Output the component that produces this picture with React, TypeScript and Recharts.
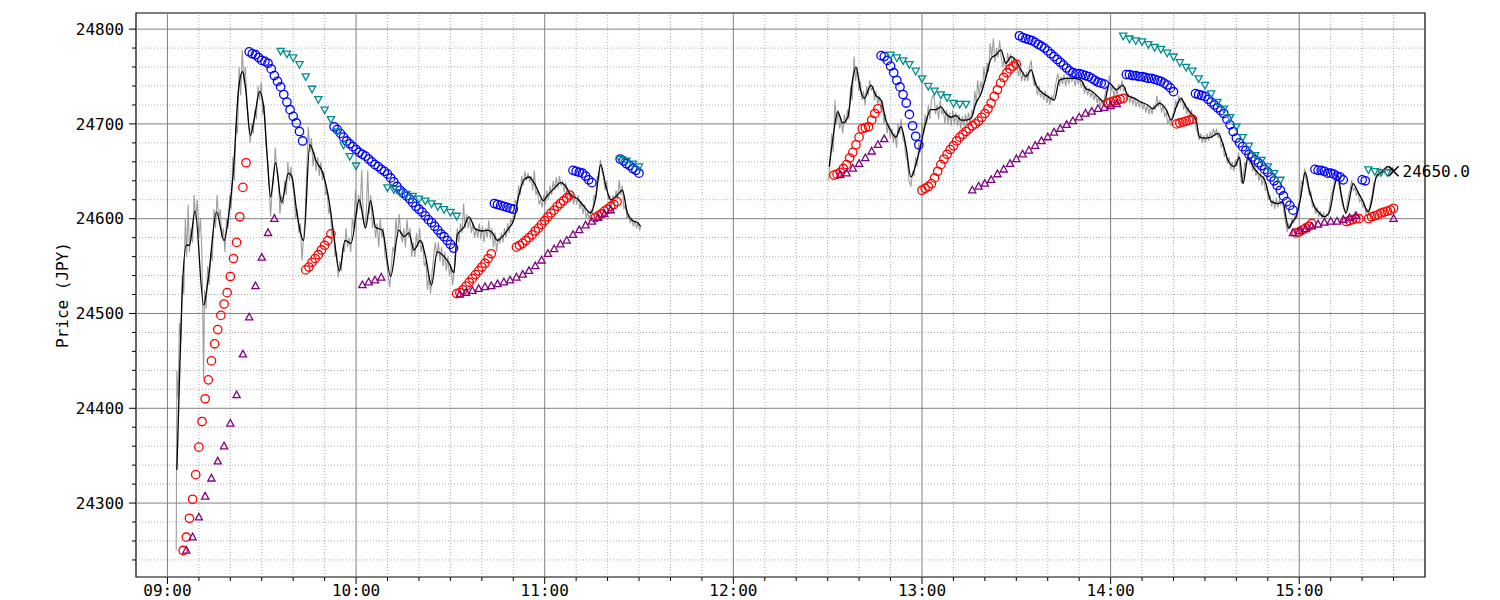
import React from "react";
import { ComposedChart, Line, Scatter, XAxis, YAxis, ReferenceLine, ReferenceArea, ReferenceDot } from "recharts";

const MONO = '"DejaVu Sans Mono", monospace';
const OPEN = 540; // 09:00 in minutes
const X_DOMAIN: [number, number] = [530, 940];
const Y_DOMAIN: [number, number] = [24222, 24817];
const PLOT_LEFT = 128;
const PLOT_BOTTOM = 569;

// raw price (grey), [minutes after 09:00, JPY]
const amRaw: [number, number][] = [
  [2.8,24250],[3,24440],[3.4,24410],[3.8,24490],[4.3,24470],[4.7,24540],[5.2,24520],[5.7,24600],[6.1,24560],[6.6,24615],
  [7,24565],[7.5,24590],[8,24575],[8.5,24625],[9,24600],[9.5,24620],[10,24580],[10.5,24600],[11,24560],[11.5,24432],
  [11.8,24525],[12.3,24505],[12.8,24550],[13.3,24530],[13.8,24565],[14.3,24555],[14.8,24610],[15.3,24590],[15.8,24625],[16.3,24600],
  [16.8,24610],[17.3,24580],[17.8,24590],[18.3,24565],[18.8,24600],[19.3,24590],[19.8,24625],[20.3,24610],[20.8,24665],[21.3,24640],
  [21.8,24700],[22.3,24690],[22.8,24760],[23.3,24730],[23.8,24778],[24.3,24745],[24.8,24760],[25.3,24720],[25.8,24700],[26.3,24680],
  [26.8,24700],[27.3,24690],[27.8,24715],[28.3,24705],[28.8,24740],[29.3,24725],[29.8,24744],[30.3,24710],[30.8,24720],[31.3,24680],
  [31.8,24665],[32.3,24640],[32.8,24602],[33.3,24630],[33.8,24645],[34.3,24675],[34.8,24650],[35.3,24640],[35.8,24605],[36.3,24625],
  [36.8,24615],[37.3,24640],[37.8,24625],[38.3,24660],[38.8,24640],[39.3,24655],[39.8,24635],[40.3,24625],[40.8,24600],[41.3,24610],
  [41.8,24585],[42.3,24595],[42.8,24556],[43.3,24580],[43.8,24600],[44.3,24650],[44.8,24697],[45.3,24670],[45.8,24685],[46.3,24655],
  [46.8,24670],[47.3,24650],[47.8,24665],[48.3,24645],[48.8,24660],[49.3,24640],[49.8,24650],[50.3,24625],[50.8,24630],[51.3,24605],
  [51.8,24612],[52.3,24580],[52.8,24590],[53.3,24560],[53.8,24565],[54.3,24538],[54.8,24555],[55.3,24545],[55.8,24570],[56.3,24565],
  [56.8,24590],[57.3,24570],[57.8,24580],[58.3,24565],[58.8,24600],[59.3,24590],[59.8,24630],[60.3,24605],[60.8,24625],[61.3,24610],
  [61.8,24651],[62.3,24600],[62.8,24590],[63.3,24610],[63.7,24651],[64.2,24605],[64.7,24625],[65.2,24590],[65.7,24600],[66.2,24580],
  [66.7,24595],[67.2,24570],[67.7,24600],[68.2,24580],[68.7,24590],[69.2,24560],[69.7,24555],[70.2,24540],[70.7,24528],[71.2,24550],
  [71.7,24570],[72.2,24565],[72.7,24600],[73.2,24580],[73.7,24605],[74.2,24585],[74.7,24575],[75.2,24590],[75.7,24570],[76.2,24599],
  [76.7,24580],[77.2,24590],[77.7,24560],[78.2,24575],[78.7,24560],[79.2,24585],[79.7,24570],[80.2,24590],[80.7,24565],[81.2,24575],
  [81.7,24550],[82.2,24555],[82.7,24525],[83.2,24540],[83.7,24521],[84.2,24545],[84.7,24560],[85.2,24575],[85.7,24560],[86.2,24575],
  [86.7,24555],[87.2,24570],[87.7,24550],[88.2,24565],[88.7,24545],[89.2,24560],[89.7,24540],[90.2,24550],[90.7,24530],[91.2,24545],
  [91.7,24570],[92.2,24590],[92.7,24575],[93.2,24595],[93.7,24585],[94.2,24616],[94.7,24590],[95.2,24605],[95.7,24590],[96.2,24600],
  [96.7,24585],[97.2,24595],[97.7,24580],[98.2,24590],[98.7,24580],[99.2,24595],[99.7,24578],[100.2,24592],[100.7,24575],[101.2,24590],
  [101.7,24580],[102.2,24598],[102.7,24578],[103.2,24590],[103.7,24570],[104.2,24585],[104.7,24565],[105.2,24580],[105.7,24574],[106.2,24585],
  [106.7,24575],[107.2,24590],[107.7,24580],[108.2,24595],[108.7,24585],[109.2,24600],[109.7,24595],[110.2,24610],[110.7,24620],[111.2,24615],
  [111.7,24635],[112.2,24625],[112.7,24645],[113.2,24635],[113.7,24650],[114.2,24640],[114.7,24648],[115.2,24638],[115.7,24645],[116.2,24630],
  [116.7,24651],[117.2,24625],[117.7,24630],[118.2,24615],[118.7,24620],[119.2,24612],[119.7,24625],[120.2,24615],[120.7,24630],[121.2,24620],
  [121.7,24635],[122.2,24625],[122.7,24640],[123.2,24630],[123.7,24644],[124.2,24632],[124.7,24645],[125.2,24635],[125.7,24640],[126.2,24628],
  [126.7,24638],[127.2,24622],[127.7,24630],[128.2,24618],[128.7,24628],[129.2,24615],[129.7,24625],[130.2,24615],[130.7,24625],[131.2,24610],
  [131.7,24618],[132.2,24605],[132.7,24615],[133.2,24600],[133.7,24608],[134.2,24598],[134.7,24610],[135.2,24605],[135.7,24625],[136.2,24620],
  [136.7,24645],[137.2,24640],[137.7,24662],[138.2,24650],[138.7,24645],[139.2,24630],[139.7,24640],[140.2,24620],[140.7,24625],[141.2,24612],
  [141.7,24625],[142.2,24615],[142.7,24630],[143.2,24620],[143.7,24641],[144.2,24625],[144.7,24635],[145.2,24610],[145.7,24615],[146.2,24600],
  [146.7,24605],[147.2,24595],[147.7,24600],[148.2,24592],[148.7,24598],[149.2,24590],[149.7,24596],[150.2,24588],[150.5,24592],
];

const pmRaw: [number, number][] = [
  [210.3,24641],[210.8,24660],[211.3,24690],[211.8,24670],[212.3,24725],[212.8,24700],[213.3,24715],[213.8,24695],[214.3,24705],[214.8,24690],
  [215.3,24710],[215.8,24700],[216.3,24715],[216.8,24705],[217.3,24740],[217.8,24725],[218.4,24771],[218.9,24745],[219.4,24760],[219.9,24735],
  [220.4,24745],[220.9,24725],[221.4,24735],[221.9,24720],[222.4,24740],[222.9,24730],[223.4,24746],[223.9,24735],[224.4,24740],[224.9,24725],
  [225.4,24735],[225.9,24720],[226.4,24730],[226.9,24715],[227.4,24725],[227.9,24700],[228.4,24710],[228.9,24690],[229.4,24700],[229.9,24685],
  [230.4,24695],[230.9,24680],[231.4,24690],[231.9,24675],[232.4,24700],[232.9,24690],[233.4,24705],[233.9,24685],[234.4,24680],[234.9,24665],
  [235.4,24660],[235.9,24640],[236.5,24634],[237,24650],[237.5,24645],[238,24665],[238.5,24655],[239,24680],[239.5,24670],[240,24700],
  [240.5,24690],[241,24710],[241.5,24700],[242,24720],[242.5,24705],[243,24725],[243.8,24732],[244.3,24710],[244.8,24720],[245.3,24705],
  [245.8,24725],[246.3,24710],[246.8,24715],[247.3,24700],[247.8,24715],[248.3,24700],[248.8,24712],[249.3,24698],[249.8,24715],[250.3,24700],
  [250.8,24712],[251.3,24698],[251.8,24710],[252.3,24695],[252.8,24708],[253.3,24698],[253.8,24710],[254.3,24700],[254.8,24712],[255.3,24700],
  [255.8,24715],[256.3,24710],[256.8,24735],[257.3,24720],[257.7,24746],[258.2,24730],[258.7,24745],[259.2,24735],[259.7,24760],[260.2,24745],
  [260.7,24765],[261.2,24755],[261.7,24785],[262.2,24770],[262.7,24790],[263.2,24765],[263.7,24780],[264.2,24770],[264.7,24788],[265.2,24770],
  [265.7,24760],[266.2,24770],[266.7,24755],[267.2,24775],[267.7,24765],[268.2,24774],[268.7,24760],[269.2,24770],[269.7,24758],[270.2,24765],
  [270.7,24750],[271.2,24760],[271.7,24745],[272.2,24755],[272.7,24745],[273.2,24755],[273.7,24745],[274.2,24760],[274.7,24767],[275.2,24750],
  [275.7,24740],[276.2,24745],[276.7,24730],[277.2,24740],[277.7,24728],[278.2,24735],[278.7,24725],[279.2,24735],[279.7,24722],[280.2,24730],
  [280.7,24720],[281.2,24730],[281.7,24725],[282.2,24735],[282.7,24745],[283.2,24753],[283.7,24740],[284.2,24750],[284.7,24742],[285.2,24752],
  [285.7,24740],[286.2,24750],[286.7,24742],[287.2,24752],[287.7,24745],[288.2,24750],[288.7,24740],[289.2,24750],[289.7,24742],[290.2,24748],
  [290.7,24738],[291.2,24745],[291.7,24732],[292.2,24740],[292.7,24730],[293.2,24738],[293.7,24728],[294.2,24735],[294.7,24725],[295.2,24732],
  [295.7,24722],[296.2,24728],[296.7,24718],[297.2,24725],[297.7,24720],[298.2,24730],[298.7,24740],[299.2,24735],[299.6,24751],[300.1,24735],
  [300.6,24740],[301.1,24728],[301.6,24738],[302.1,24730],[302.6,24742],[303.1,24735],[303.6,24746],[304.1,24735],[304.6,24738],[305.1,24725],
  [305.6,24732],[306.1,24722],[306.6,24730],[307.1,24720],[307.6,24728],[308.1,24718],[308.6,24726],[309.1,24718],[309.7,24724],[310.2,24715],
  [310.7,24722],[311.2,24712],[311.7,24720],[312.2,24710],[312.7,24718],[313.2,24710],[313.7,24720],[314.2,24715],[314.7,24730],[315.2,24718],
  [315.7,24725],[316.2,24712],[316.7,24720],[317.2,24708],[317.7,24712],[318.2,24700],[318.7,24705],[319.2,24698],[319.7,24710],[320.2,24712],
  [320.7,24725],[321.2,24718],[321.7,24730],[322.2,24722],[322.7,24728],[323.2,24715],[323.7,24722],[324.2,24710],[324.7,24718],[325.2,24705],
  [325.7,24715],[326.2,24700],[326.7,24708],[327.2,24695],[327.7,24690],[328.2,24683],[328.7,24690],[329.2,24680],[329.7,24688],[330.2,24680],
  [330.7,24690],[331.2,24682],[331.7,24692],[332.2,24685],[332.7,24695],[333.2,24688],[333.7,24695],[334.2,24685],[334.7,24690],[335.2,24675],
  [335.7,24680],[336.2,24665],[336.7,24670],[337.2,24658],[337.7,24665],[338.2,24652],[338.7,24660],[339.2,24650],[339.7,24662],[340.2,24655],
  [340.7,24670],[341.2,24650],[341.7,24637],[342.2,24645],[342.7,24660],[343.2,24655],[343.7,24672],[344.2,24658],[344.7,24662],[345.2,24650],
  [345.7,24658],[346.2,24645],[346.7,24652],[347.2,24640],[347.7,24648],[348.2,24635],[348.7,24645],[349.2,24630],[349.7,24632],[350.2,24620],
  [350.7,24625],[351.2,24613],[351.7,24620],[352.2,24610],[352.7,24622],[353.2,24612],[353.7,24620],[354.2,24615],[354.7,24620],[355.2,24605],
  [355.7,24595],[356.2,24586],[356.7,24595],[357.2,24590],[357.7,24600],[358.2,24595],[358.7,24605],[359.2,24600],[359.7,24615],[360.2,24620],
  [360.7,24640],[361.2,24635],[361.7,24653],[362.2,24640],[362.7,24635],[363.2,24625],[363.7,24628],[364.2,24612],[364.7,24615],[365.2,24605],
  [365.7,24612],[366.2,24602],[366.7,24608],[367.2,24600],[367.7,24606],[368.2,24600],[368.7,24605],[369.2,24603],[369.7,24615],[370.2,24625],
  [370.7,24630],[371.2,24640],[371.7,24648],[372.2,24640],[372.7,24635],[373.2,24625],[373.7,24615],[374.2,24610],[374.7,24606],[375.2,24615],
  [375.7,24625],[376.2,24630],[376.7,24641],[377.2,24630],[377.7,24632],[378.2,24625],[378.7,24628],[379.2,24618],[379.7,24620],[380.2,24612],
  [380.7,24615],[381.2,24606],[381.7,24610],[382.2,24608],[382.7,24618],[383.2,24625],[383.7,24638],[384.2,24640],[384.7,24648],[385.2,24645],
  [385.7,24653],[386.2,24648],[386.7,24652],[387.2,24648],[387.7,24655],[388.2,24650],[388.7,24652],[389.2,24648],[389.7,24655],[390,24650],
];

// smoothed price (black)
const amSmooth: [number, number][] = [
  [3,24335],[4,24450],[4.6,24514],[6,24572],[7,24572],[8.8,24608],[11.5,24509],[13,24537],[15.6,24607],[18,24577],
  [19.5,24604],[21,24651],[22.6,24736],[23.9,24755],[24.8,24739],[26.4,24688],[27.7,24707],[29.3,24734],[30.6,24718],[31.8,24662],
  [32.8,24623],[34.4,24659],[36.3,24617],[38.5,24648],[39.6,24644],[41.1,24608],[43.3,24577],[45.3,24678],[47.4,24660],[49.2,24650],
  [51.6,24615],[53,24580],[54.7,24545],[56.5,24577],[58.4,24574],[61,24620],[63,24590],[64.6,24619],[66.2,24591],[68.3,24588],
  [71,24539],[73.6,24588],[75.2,24581],[76.8,24585],[78.4,24567],[80.5,24577],[82.1,24560],[84,24530],[85.8,24565],[88,24560],
  [89.6,24553],[91.1,24543],[92.2,24583],[94.3,24591],[95.9,24602],[98,24589],[100.2,24587],[101.8,24588],[103.4,24585],[105,24577],
  [107,24583],[108.6,24590],[110.2,24599],[111.8,24625],[113.4,24641],[115,24644],[116.6,24638],[118.2,24627],[119.6,24619],[120.8,24624],
  [123,24632],[125.1,24638],[126.7,24634],[128.3,24625],[130.4,24621],[132.5,24613],[134.6,24606],[136.2,24622],[137.8,24657],[139.4,24635],
  [141,24620],[143.1,24625],[144.7,24630],[146.3,24606],[147.9,24598],[149.5,24596],[150.5,24592],
];

const pmSmooth: [number, number][] = [
  [210.5,24655],[211.6,24683],[213.2,24713],[214.8,24701],[216.4,24707],[218,24748],[219,24760],[220.6,24734],[221.6,24727],[223.8,24741],
  [225.3,24730],[227,24725],[228.5,24704],[230.1,24693],[231.7,24686],[233.3,24697],[234.9,24676],[236.5,24644],[238.1,24658],[239.5,24676],
  [240.9,24697],[242.8,24715],[244.4,24715],[246,24718],[247.6,24711],[249.2,24707],[250.8,24709],[252.4,24704],[254,24704],[255.6,24706],
  [257.2,24722],[258.8,24732],[260.4,24750],[262,24769],[263.6,24773],[265.1,24778],[266.7,24764],[268.3,24771],[269.9,24767],[271.5,24757],
  [273.1,24750],[274.7,24757],[276.3,24741],[277.9,24734],[280,24729],[282.1,24725],[283.7,24746],[285.8,24748],[288.5,24748],[290.6,24746],
  [292.2,24737],[293.8,24735],[295.9,24729],[298,24723],[299.6,24743],[301.8,24736],[303.9,24741],[305.5,24730],[307.6,24727],[309.7,24723],
  [311.8,24720],[313.4,24716],[315.5,24722],[317.7,24715],[319.3,24704],[320.9,24718],[322.4,24727],[324,24718],[325.6,24711],[327.2,24704],
  [328.3,24686],[329.9,24685],[332,24686],[334.2,24690],[335.7,24679],[337.3,24662],[339.4,24655],[341,24665],[342.1,24637],[343.7,24665],
  [345.3,24655],[346.9,24648],[349,24641],[351.1,24618],[353.2,24616],[354.8,24618],[355.9,24599],[356.6,24590],[357.9,24597],[359,24602],
  [360.4,24621],[361.9,24649],[363.2,24630],[364.8,24613],[366.4,24606],[368,24602],[369.6,24607],[371.2,24634],[372.3,24646],[373.3,24627],
  [374.9,24606],[376,24621],[377.1,24637],[378.7,24628],[380.3,24618],[381.9,24607],[382.9,24616],[384.5,24644],[386.1,24649],[388.3,24655],
  [390,24651],
];

// stop-and-reverse dots, one value per minute from start
const redCircles = [
  { start: "09:05", vals: [24250,24264,24284,24304,24330,24359,24386,24410,24430,24450,24468,24483,24498,24510,24522,24539,24558,24575,24602,24633,24659] },
  { start: "09:44", vals: [24546,24549,24554,24558,24562,24567,24572,24577,24584] },
  { start: "10:32", vals: [24521,24522,24525,24529,24533,24537,24541,24545,24549,24553,24558,24563] },
  { start: "10:51", vals: [24570,24572,24574,24577,24580,24583,24587,24590,24594,24598,24602,24606,24609,24613,24616,24619,24622,24625] },
  { start: "11:16", vals: [24601,24603,24605,24608,24610,24613,24615,24618] },
  { start: "12:32", vals: [24646,24647,24649,24653,24657,24664,24670,24678,24686,24695,24696,24697,24704,24711,24716] },
  { start: "13:00", vals: [24630,24632,24634,24637,24643,24650,24657,24663,24668,24673,24677,24682,24686,24689,24692,24695,24698,24700,24703,24707,24711,24716,24722,24729,24736,24743,24749,24754,24758,24761,24763] },
  { start: "13:59", vals: [24722,24723,24724,24725,24726,24727] },
  { start: "14:21", vals: [24700,24701,24702,24703,24704,24705] },
  { start: "14:59", vals: [24585,24586,24588,24590,24592,24595] },
  { start: "15:15", vals: [24597,24598,24599,24600,24600] },
  { start: "15:22", vals: [24600,24602,24603,24604,24606,24607,24608,24609,24611] },
];

const blueCircles = [
  { start: "09:26", vals: [24776,24774,24773,24770,24767,24766,24764,24758,24751,24745,24739,24731,24723,24715,24708,24701,24692,24682] },
  { start: "09:53", vals: [24697,24694,24690,24686,24682,24679,24676,24673,24670,24668,24666,24663,24660,24657,24655,24652,24650,24647,24643,24639,24634,24630,24627,24624,24621,24617,24613,24610,24607,24603,24599,24596,24592,24588,24584,24581,24577,24573,24569] },
  { start: "10:44", vals: [24616,24615,24614,24613,24612,24611,24610] },
  { start: "11:09", vals: [24651,24650,24649,24648,24645,24641,24638] },
  { start: "11:24", vals: [24663,24661,24658,24656,24653,24651,24648] },
  { start: "12:47", vals: [24772,24771,24767,24761,24754,24746,24739,24731,24722,24710,24698,24687,24678] },
  { start: "13:31", vals: [24793,24791,24790,24789,24788,24786,24784,24782,24780,24777,24774,24771,24768,24765,24762,24759,24756,24754,24753,24753,24752,24751,24750,24748,24746,24744,24743,24742] },
  { start: "14:05", vals: [24752,24752,24751,24751,24750,24750,24749,24748,24748,24747,24746,24745,24743,24741,24738,24734] },
  { start: "14:27", vals: [24732,24731,24730,24729,24726,24723,24720,24717,24714,24711,24705,24699,24692,24685,24680,24676,24672,24668,24665,24662,24659,24656,24652,24649,24644,24640,24635,24630,24624,24618,24614,24609] },
  { start: "15:05", vals: [24652,24651,24651,24650,24648,24648,24647,24645,24644,24641] },
  { start: "15:20", vals: [24641,24640] },
];

// slower stop-and-reverse, one value every two minutes
const tealTriangles = [
  { start: "09:36", vals: [24777,24774,24770,24763,24750,24737,24726,24715,24705,24692,24678,24666,24656] },
  { start: "10:10", vals: [24633,24631,24628,24626,24624,24621,24619,24616,24613,24610,24607,24603] },
  { start: "11:24", vals: [24663,24661,24658,24655] },
  { start: "12:50", vals: [24773,24770,24767,24763,24756,24748,24740,24735,24731,24728,24722,24721,24721] },
  { start: "14:04", vals: [24793,24790,24788,24787,24784,24781,24779,24775,24771,24765,24760,24756,24748,24741,24732,24723,24716,24707,24697,24686,24677,24667,24662,24655,24648,24641] },
  { start: "15:22", vals: [24652,24650,24649,24649] },
];

const purpleTriangles = [
  { start: "09:06", vals: [24250,24264,24285,24307,24326,24344,24360,24384,24414,24457,24496,24529,24559,24585,24600] },
  { start: "10:02", vals: [24530,24533,24535,24538] },
  { start: "10:33", vals: [24520,24522,24524,24526,24528,24529,24531,24533,24535,24538,24541,24545,24550,24556,24563,24568,24573,24577,24583,24588,24593,24597,24601,24605,24609] },
  { start: "12:34", vals: [24646,24648,24653,24658,24664,24671,24678,24684] },
  { start: "13:16", vals: [24630,24634,24637,24641,24647,24652,24658,24663,24668,24672,24677,24682,24686,24691,24695,24699,24703,24707,24711,24713,24716,24717,24719,24721] },
  { start: "14:58", vals: [24585,24587,24589,24592,24594,24596,24597,24597,24599,24601,24603] },
  { start: "15:30", vals: [24600] },
];

const lastPrice = { time: "15:30", value: 24650 };

const toMin = (hhmm: string) => {
  const [h, m] = hhmm.split(":").map(Number);
  return h * 60 + m;
};
const fmtTime = (v: number) =>
  `${String(Math.floor(v / 60)).padStart(2, "0")}:${String(v % 60).padStart(2, "0")}`;

const toPts = (pairs: [number, number][]) => pairs.map(([o, v]) => ({ t: OPEN + o, v }));
const lunchGap = { t: 690, v: null };
const rawData = [...toPts(amRaw), lunchGap, ...toPts(pmRaw)];
const smoothData = [...toPts(amSmooth), lunchGap, ...toPts(pmSmooth)];
const segPts = (segs: { start: string; vals: number[] }[], step: number) =>
  segs.flatMap((s) => s.vals.map((v, i) => ({ t: toMin(s.start) + i * step, v })));

const xTicks: number[] = [];
for (let t = 540; t <= 930; t += 10) xTicks.push(t);
const yTicks: number[] = [];
for (let p = 24240; p <= 24800; p += 20) yTicks.push(p);

const XTick = ({ x, payload }: any) => {
  const v = payload.value;
  const major = v % 60 === 0;
  return (
    <g>
      <line x1={x} x2={x} y1={PLOT_BOTTOM} y2={PLOT_BOTTOM + (major ? 7 : 4)} stroke="#000" strokeWidth={1} />
      {major && (
        <text x={x} y={PLOT_BOTTOM + 19} textAnchor="middle" fontFamily={MONO} fontSize={16} fill="#000">
          {fmtTime(v)}
        </text>
      )}
    </g>
  );
};

const YTick = ({ y, payload }: any) => {
  const v = payload.value;
  const major = v % 100 === 0;
  return (
    <g>
      <line x1={PLOT_LEFT - (major ? 7 : 4)} x2={PLOT_LEFT} y1={y} y2={y} stroke="#000" strokeWidth={1} />
      {major && (
        <text x={PLOT_LEFT - 12} y={y + 5.8} textAnchor="end" fontFamily={MONO} fontSize={16} fill="#000">
          {v}
        </text>
      )}
    </g>
  );
};

const circle = (color: string) => (p: any) =>
  <circle cx={p.cx} cy={p.cy} r={4.2} fill="none" stroke={color} strokeWidth={1.3} />;
const triUp = (color: string) => (p: any) => (
  <polygon
    points={`${p.cx},${p.cy - 4} ${p.cx - 3.6},${p.cy + 2.6} ${p.cx + 3.6},${p.cy + 2.6}`}
    fill="none"
    stroke={color}
    strokeWidth={1.3}
  />
);
const triDown = (color: string) => (p: any) => (
  <polygon
    points={`${p.cx},${p.cy + 4} ${p.cx - 3.6},${p.cy - 2.6} ${p.cx + 3.6},${p.cy - 2.6}`}
    fill="none"
    stroke={color}
    strokeWidth={1.3}
  />
);
const lastMark = (p: any) => (
  <g>
    <line x1={p.cx - 5} x2={p.cx + 5} y1={p.cy - 5} y2={p.cy + 5} stroke="#000" strokeWidth={1.6} />
    <line x1={p.cx - 5} x2={p.cx + 5} y1={p.cy + 5} y2={p.cy - 5} stroke="#000" strokeWidth={1.6} />
    <text x={p.cx + 9} y={p.cy + 5.8} fontFamily={MONO} fontSize={16} fill="#000">
      {lastPrice.value.toFixed(1)}
    </text>
  </g>
);

export default function App() {
  return (
    <ComposedChart width={1484} height={592} margin={{ top: 5, right: 67, bottom: 0, left: 0 }}>
      <XAxis
        type="number"
        dataKey="t"
        domain={X_DOMAIN}
        allowDataOverflow
        ticks={xTicks}
        interval={0}
        tick={<XTick />}
        tickLine={false}
        axisLine={false}
        height={23}
      />
      <YAxis
        type="number"
        dataKey="v"
        domain={Y_DOMAIN}
        allowDataOverflow
        ticks={yTicks}
        interval={0}
        tick={<YTick />}
        tickLine={false}
        axisLine={false}
        width={128}
        label={{
          content: (props: any) => {
            const vb = props.viewBox || { y: 5, height: 564 };
            const cy = vb.y + vb.height / 2;
            return (
              <text x={60} y={cy} transform={`rotate(-90, 60, ${cy})`} textAnchor="middle" fontFamily={MONO} fontSize={16} fill="#000">
                Price (JPY)
              </text>
            );
          },
        }}
      />
      {xTicks.filter((t) => t % 60 !== 0).map((t) => (
        <ReferenceLine key={`xm${t}`} x={t} stroke="#9a9a9a" strokeWidth={0.8} strokeDasharray="1 2" />
      ))}
      {yTicks.filter((p) => p % 100 !== 0).map((p) => (
        <ReferenceLine key={`ym${p}`} y={p} stroke="#9a9a9a" strokeWidth={0.8} strokeDasharray="1 2" />
      ))}
      {xTicks.filter((t) => t % 60 === 0).map((t) => (
        <ReferenceLine key={`xM${t}`} x={t} stroke="#808080" strokeWidth={1} />
      ))}
      {yTicks.filter((p) => p % 100 === 0).map((p) => (
        <ReferenceLine key={`yM${p}`} y={p} stroke="#808080" strokeWidth={1} />
      ))}
      <Line data={rawData} dataKey="v" type="linear" stroke="#8c8c8c" strokeOpacity={0.85} strokeWidth={1.1} dot={false} isAnimationActive={false} />
      <Line data={smoothData} dataKey="v" type="monotone" stroke="#000" strokeWidth={1.3} dot={false} isAnimationActive={false} />
      <Scatter data={segPts(redCircles, 1)} dataKey="v" shape={circle("#ff0000")} isAnimationActive={false} />
      <Scatter data={segPts(blueCircles, 1)} dataKey="v" shape={circle("#0000ff")} isAnimationActive={false} />
      <Scatter data={segPts(tealTriangles, 2)} dataKey="v" shape={triDown("#008b8b")} isAnimationActive={false} />
      <Scatter data={segPts(purpleTriangles, 2)} dataKey="v" shape={triUp("#800080")} isAnimationActive={false} />
      <ReferenceArea x1={X_DOMAIN[0]} x2={X_DOMAIN[1]} y1={Y_DOMAIN[0]} y2={Y_DOMAIN[1]} fill="none" stroke="#000" strokeWidth={1.2} ifOverflow="visible" />
      <ReferenceDot x={toMin(lastPrice.time)} y={lastPrice.value} ifOverflow="visible" shape={lastMark} />
    </ComposedChart>
  );
}
